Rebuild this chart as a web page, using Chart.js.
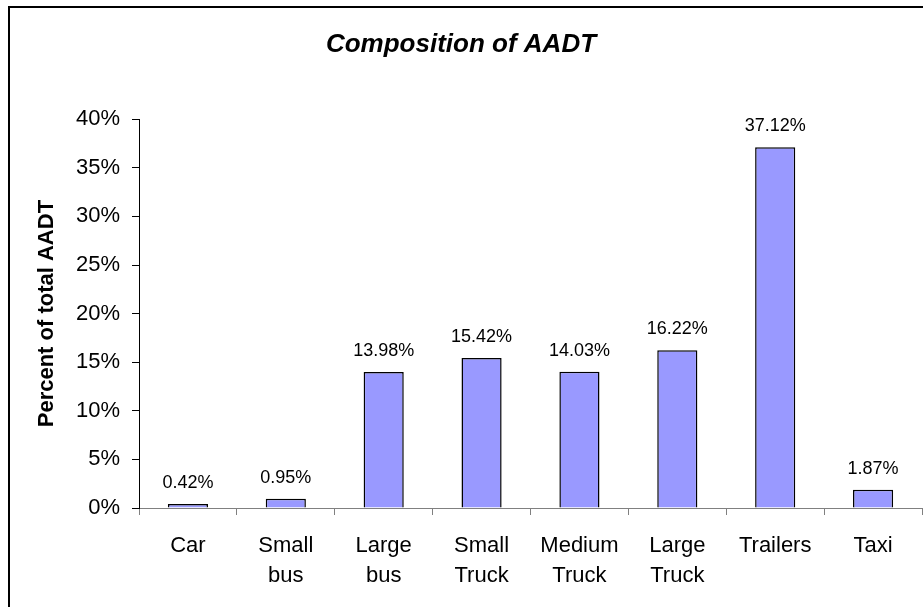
<!DOCTYPE html>
<html><head><meta charset="utf-8">
<script src="https://cdn.jsdelivr.net/npm/chart.js@4"></script>
<style>
html,body{margin:0;padding:0;background:#fff;overflow:hidden}
#wrap{position:relative;width:923px;height:607px;overflow:hidden}
#frame{position:absolute;left:8px;top:6px;width:1000px;height:1000px;border:2px solid #000;box-sizing:border-box;pointer-events:none}
canvas{position:absolute;left:0;top:0}
</style></head><body>
<div id="wrap"><canvas id="c" width="923" height="607"></canvas><div id="frame"></div></div>
<script>
const categories = [["Car"],["Small","bus"],["Large","bus"],["Small","Truck"],["Medium","Truck"],["Large","Truck"],["Trailers"],["Taxi"]];
const percentValues = [0.42, 0.95, 13.98, 15.42, 14.03, 16.22, 37.12, 1.87];
const yTicks = [0, 5, 10, 15, 20, 25, 30, 35, 40];
const FONT = '"Liberation Sans", Arial, sans-serif';

const valueLabels = {
  id: 'valueLabels',
  afterDatasetsDraw(chart) {
    const ctx = chart.ctx;
    const meta = chart.getDatasetMeta(0);
    ctx.save();
    ctx.font = '18px ' + FONT;
    ctx.fillStyle = '#000';
    ctx.textAlign = 'center';
    ctx.textBaseline = 'middle';
    meta.data.forEach((bar, i) => {
      ctx.fillText(percentValues[i].toFixed(2) + '%', bar.x, bar.y - 21);
    });
    ctx.restore();
  }
};

new Chart(document.getElementById('c'), {
  type: 'bar',
  data: {
    labels: categories,
    datasets: [{
      data: percentValues,
      backgroundColor: '#9999FF',
      borderColor: '#000',
      borderWidth: 1.5,
      barPercentage: 0.41,
      categoryPercentage: 1.0
    }]
  },
  options: {
    responsive: false,
    animation: false,
    devicePixelRatio: 1,
    layout: { padding: { left: 0, right: 1, top: 0, bottom: 0 } },
    plugins: {
      legend: { display: false },
      tooltip: { enabled: false },
      title: {
        display: true,
        text: 'Composition of AADT',
        color: '#000',
        font: { family: FONT, size: 26, weight: 'bold', style: 'italic', lineHeight: 1.2 },
        padding: { top: 29, bottom: 59 }
      }
    },
    scales: {
      x: {
        grid: { offset: true, drawOnChartArea: false, drawTicks: true, tickLength: 7, color: '#808080', lineWidth: 1 },
        border: { color: '#808080', width: 1 },
        ticks: { color: '#000', font: { family: FONT, size: 22, lineHeight: 1.36 }, padding: 16, maxRotation: 0, autoSkip: false },
        afterFit(s) { s.height = 99; }
      },
      y: {
        min: 0, max: 40,
        afterBuildTicks(s) { s.ticks = yTicks.map(v => ({ value: v })); },
        ticks: { color: '#000', font: { family: FONT, size: 22 }, padding: 12, callback: v => v + '%' },
        grid: { drawOnChartArea: false, drawTicks: true, tickLength: 7, color: '#000' },
        border: { color: '#000', width: 1 },
        title: {
          display: true,
          text: 'Percent of total AADT',
          color: '#000',
          font: { family: FONT, size: 22, weight: 'bold', lineHeight: 1.2 },
          padding: { top: 34, bottom: 0 }
        },
        afterFit(s) { s.width = 139; }
      }
    }
  },
  plugins: [valueLabels]
});
</script>
</body></html>
